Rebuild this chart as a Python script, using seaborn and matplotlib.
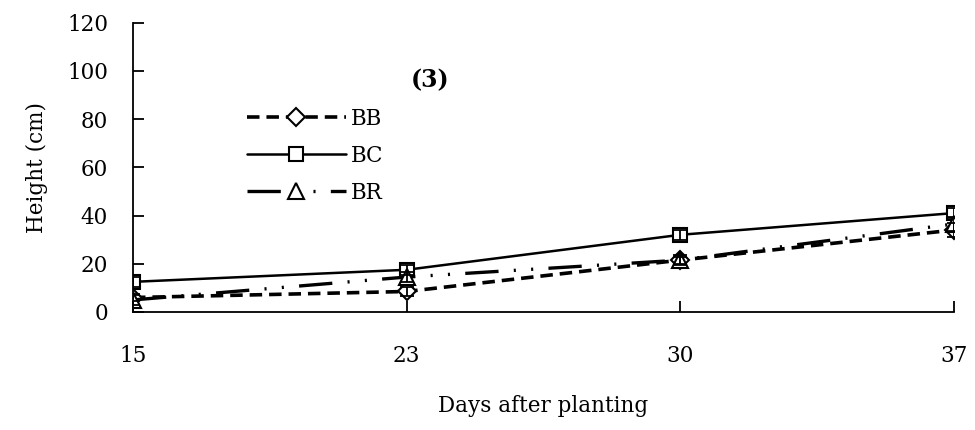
import numpy as np
import pandas as pd
import matplotlib
matplotlib.use("Agg")
import matplotlib.pyplot as plt
import seaborn as sns

days = ["15", "23", "30", "37"]
bb = [6.0, 8.5, 21.5, 34.0]
bc = [12.5, 17.5, 32.0, 41.0]
br = [5.0, 14.5, 21.5, 36.5]
bb_err = [1.5, 2.0, 1.5, 3.0]
bc_err = [2.0, 2.0, 2.0, 2.0]
br_err = [2.0, 2.0, 2.0, 3.0]
series_names = ["BB", "BC", "BR"]
y_ticks = [0, 20, 40, 60, 80, 100, 120]

sns.set_style("white")
plt.rcParams["font.family"] = ["DejaVu Serif"]
plt.rcParams["lines.scale_dashes"] = False
for k in ["text.color", "axes.labelcolor", "xtick.color", "ytick.color"]:
    plt.rcParams[k] = "black"

fig = plt.figure(figsize=(9.75, 4.3), dpi=100)
ax = fig.add_axes([133 / 975, (430 - 312) / 430, 821 / 975, 289.5 / 430])

styles = {
    "BB": dict(marker="D", dashes=(9, 5), lw=2.6, ms=9),
    "BC": dict(marker="s", dashes=None, lw=1.8, ms=10),
    "BR": dict(marker="^", dashes=(24, 11, 1.5, 11, 1.5, 11), lw=2.4, ms=11),
}
values = {"BB": (bb, bb_err), "BC": (bc, bc_err), "BR": (br, br_err)}

for name in series_names:
    vals, errs = values[name]
    df = pd.DataFrame({"Day": days, "Height": vals})
    st = styles[name]
    sns.lineplot(data=df, x="Day", y="Height", ax=ax, color="black",
                 lw=st["lw"], marker=st["marker"], markersize=st["ms"],
                 markerfacecolor="white", markeredgecolor="black",
                 markeredgewidth=1.5, label=name, sort=False)
    line = ax.lines[-1]
    if st["dashes"] is not None:
        line.set_dashes(st["dashes"])
    ax.errorbar(days, vals, yerr=errs, fmt="none", ecolor="black",
                elinewidth=1.3, capsize=5, capthick=1.3, zorder=3)

ax.set_xlim(0, 3)
ax.set_ylim(0, 120)
ax.set_yticks(y_ticks)
ax.set_xticks(range(len(days)))
ax.set_xticklabels(days)
for s in ["top", "right"]:
    ax.spines[s].set_visible(False)
for s in ["left", "bottom"]:
    ax.spines[s].set_color("black")
    ax.spines[s].set_linewidth(1.3)
ax.tick_params(axis="y", left=True, direction="in", length=8, width=1.3,
               pad=18, labelsize=15.5)
ax.tick_params(axis="x", bottom=True, direction="in", length=8, width=1.3,
               pad=24, labelsize=15.5)
ax.set_xlabel("Days after planting", fontsize=15.5, labelpad=20)
ax.set_ylabel("Height (cm)", fontsize=15.5, labelpad=14)
ax.text(0.362, 0.80, "(3)", transform=ax.transAxes, fontsize=17,
        fontweight="bold", ha="center", va="center")

ax.legend(loc="upper left", bbox_to_anchor=(238 / 975, (430 - 99) / 430),
          bbox_transform=fig.transFigure, frameon=False, fontsize=15.5,
          handlelength=4.6, labelspacing=0.7, handletextpad=0.25,
          borderaxespad=0)
fig.savefig("out.png", dpi=100)
